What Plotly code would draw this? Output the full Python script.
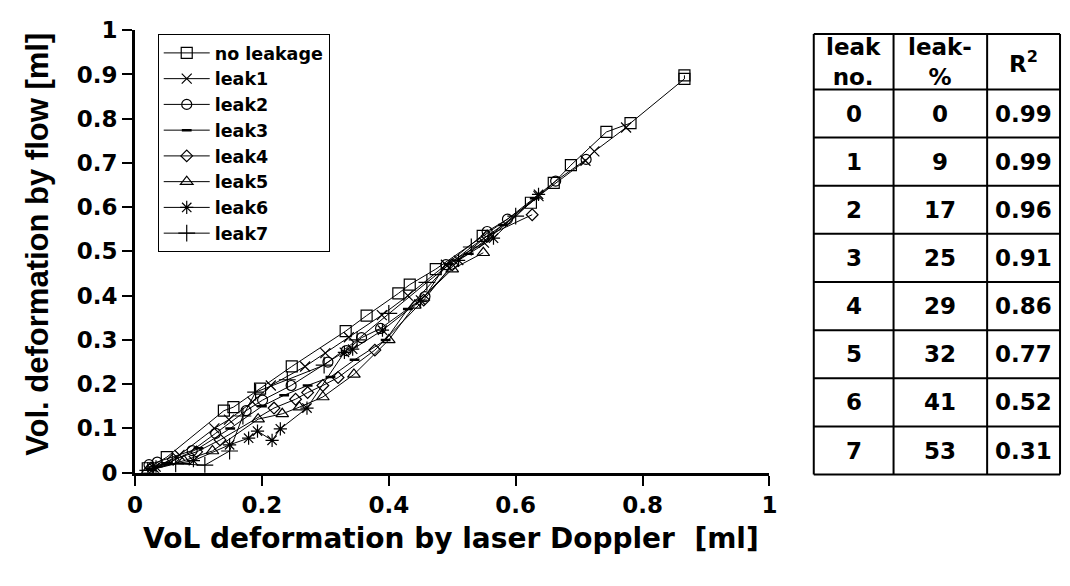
import plotly.graph_objects as go

W, H = 1070, 586

# ---- data ----
series_names = ["no leakage", "leak1", "leak2", "leak3", "leak4", "leak5", "leak6", "leak7"]

no_leak_x = [0.02, 0.05, 0.14, 0.155, 0.197, 0.247, 0.332, 0.365, 0.415, 0.433, 0.474, 0.548, 0.624, 0.660, 0.687, 0.743, 0.781, 0.866, 0.866]
no_leak_y = [0.01, 0.035, 0.14, 0.148, 0.19, 0.24, 0.32, 0.355, 0.405, 0.425, 0.46, 0.535, 0.61, 0.655, 0.695, 0.77, 0.79, 0.89, 0.898]

leak1_x = [0.03, 0.07, 0.125, 0.148, 0.185, 0.214, 0.268, 0.30, 0.337, 0.389, 0.43, 0.49, 0.55, 0.636, 0.71, 0.724, 0.774]
leak1_y = [0.01, 0.04, 0.10, 0.12, 0.16, 0.197, 0.24, 0.27, 0.306, 0.356, 0.40, 0.47, 0.52, 0.625, 0.705, 0.726, 0.78]

leak2_x = [0.022, 0.035, 0.09, 0.127, 0.175, 0.201, 0.246, 0.304, 0.333, 0.357, 0.387, 0.457, 0.49, 0.555, 0.587, 0.663, 0.711]
leak2_y = [0.018, 0.024, 0.05, 0.089, 0.14, 0.164, 0.197, 0.25, 0.276, 0.305, 0.326, 0.398, 0.47, 0.545, 0.573, 0.659, 0.708]

leak3_x = [0.025, 0.05, 0.10, 0.15, 0.20, 0.235, 0.272, 0.308, 0.346, 0.395, 0.43, 0.494, 0.526, 0.58, 0.63]
leak3_y = [0.008, 0.02, 0.055, 0.10, 0.15, 0.175, 0.197, 0.216, 0.255, 0.30, 0.37, 0.471, 0.495, 0.56, 0.62]

leak4_x = [0.025, 0.06, 0.097, 0.134, 0.219, 0.253, 0.272, 0.296, 0.320, 0.378, 0.455, 0.50, 0.555, 0.626]
leak4_y = [0.01, 0.03, 0.047, 0.074, 0.146, 0.166, 0.181, 0.197, 0.215, 0.277, 0.39, 0.47, 0.535, 0.583]

leak5_x = [0.02, 0.077, 0.122, 0.194, 0.232, 0.259, 0.296, 0.345, 0.40, 0.441, 0.50, 0.549]
leak5_y = [0.005, 0.027, 0.049, 0.121, 0.133, 0.148, 0.171, 0.222, 0.30, 0.378, 0.46, 0.497]

leak6_x = [0.033, 0.092, 0.149, 0.179, 0.193, 0.216, 0.229, 0.271, 0.330, 0.343, 0.390, 0.45, 0.51, 0.565, 0.636]
leak6_y = [0.013, 0.027, 0.063, 0.078, 0.094, 0.073, 0.099, 0.146, 0.272, 0.279, 0.322, 0.39, 0.48, 0.53, 0.629]

leak7_x = [0.02, 0.064, 0.11, 0.149, 0.17, 0.19, 0.24, 0.298, 0.35, 0.40, 0.46, 0.53, 0.60]
leak7_y = [0.005, 0.02, 0.017, 0.049, 0.128, 0.182, 0.21, 0.243, 0.30, 0.36, 0.43, 0.51, 0.58]

table_header = ["leak<br>no.", "leak-<br>%", "R<sup>2</sup>"]
table_leak_no = ["0", "1", "2", "3", "4", "5", "6", "7"]
table_leak_pct = ["0", "9", "17", "25", "29", "32", "41", "53"]
table_r2 = ["0.99", "0.99", "0.96", "0.91", "0.86", "0.77", "0.52", "0.31"]

x_title = "VoL deformation by laser Doppler  [ml]"
y_title = "Vol. deformation by flow [ml]"

# ---- styles ----
all_x = [no_leak_x, leak1_x, leak2_x, leak3_x, leak4_x, leak5_x, leak6_x, leak7_x]
all_y = [no_leak_y, leak1_y, leak2_y, leak3_y, leak4_y, leak5_y, leak6_y, leak7_y]
symbols = ["square-open", "x-thin-open", "circle-open", "line-ew-open",
           "diamond-open", "triangle-up-open", "asterisk-open", "cross-thin-open"]
sizes = [11, 10, 10, 7, 9, 11, 11, 12]

WIDE = "DejaVu Sans, Verdana, sans-serif"
ARIAL = "Liberation Sans, Arial, sans-serif"

fig = go.Figure()
for name, xs, ys, sym, sz in zip(series_names, all_x, all_y, symbols, sizes):
    fig.add_trace(go.Scatter(
        x=xs, y=ys, name=name, mode="lines+markers",
        line=dict(color="black", width=1),
        marker=dict(symbol=sym, size=sz, color="black",
                    line=dict(color="black", width=1.2 if sym != "line-ew-open" else 2.5)),
    ))

# plot area in pixels
PL, PR, PT, PB = 129, 773, 18, 481

fig.update_layout(
    width=W, height=H, autosize=False,
    margin=dict(l=0, r=0, t=0, b=0),
    paper_bgcolor="white", plot_bgcolor="white",
    font=dict(family=WIDE, color="black"),
    showlegend=True,
    legend=dict(
        x=152 / W, y=1 - 22 / H, xanchor="left", yanchor="top",
        bgcolor="white", bordercolor="black", borderwidth=1,
        font=dict(family=WIDE, size=17.5, color="black", weight="bold"),
        itemwidth=46, tracegroupgap=0,
    ),
    xaxis=dict(
        domain=[PL / W, PR / W], range=[0, 1], tick0=0, dtick=0.2,
        showgrid=False, zeroline=False, showline=True, linecolor="black", linewidth=3,
        ticks="outside", ticklen=10, tickwidth=2, tickcolor="black",
        tickfont=dict(family=WIDE, size=23, color="black", weight="bold"),
    ),
    yaxis=dict(
        domain=[1 - PB / H, 1 - PT / H], range=[0, 1], tick0=0, dtick=0.1,
        showgrid=False, zeroline=False, showline=True, linecolor="black", linewidth=3,
        ticks="outside", ticklen=10, tickwidth=2, tickcolor="black",
        tickfont=dict(family=WIDE, size=23, color="black", weight="bold"),
    ),
)

annotations = [
    dict(text=x_title, x=450 / W, y=1 - 550 / H, xref="paper", yref="paper",
         showarrow=False, xanchor="center", yanchor="middle",
         font=dict(family=WIDE, size=28, color="black", weight="bold")),
    dict(text=y_title, x=30 / W, y=1 - 242 / H, xref="paper", yref="paper",
         showarrow=False, xanchor="center", yanchor="middle", textangle=-90,
         font=dict(family=ARIAL, size=31, color="black", weight="bold")),
]

# ---- table (drawn with shapes and annotations) ----
col_edges = [818, 899, 994, 1068]
top, header_bottom, bottom = 22, 80, 483
n_rows = len(table_leak_no)
row_h = (bottom - header_bottom) / n_rows
row_edges = [top, header_bottom] + [header_bottom + row_h * (i + 1) for i in range(n_rows)]

shapes = []
for xe in col_edges:
    shapes.append(dict(type="line", xref="paper", yref="paper",
                       x0=xe / W, x1=xe / W, y0=1 - top / H, y1=1 - bottom / H,
                       line=dict(color="black", width=2)))
for ye in row_edges:
    shapes.append(dict(type="line", xref="paper", yref="paper",
                       x0=col_edges[0] / W, x1=col_edges[-1] / W, y0=1 - ye / H, y1=1 - ye / H,
                       line=dict(color="black", width=2)))

cell_font = dict(family=WIDE, size=23, color="black", weight="bold")
for ci, htxt in enumerate(table_header):
    cx = (col_edges[ci] + col_edges[ci + 1]) / 2
    cy = (top + header_bottom) / 2
    annotations.append(dict(text=htxt, x=cx / W, y=1 - cy / H, xref="paper", yref="paper",
                            showarrow=False, xanchor="center", yanchor="middle",
                            font=cell_font))
columns = [table_leak_no, table_leak_pct, table_r2]
for ci, col in enumerate(columns):
    cx = (col_edges[ci] + col_edges[ci + 1]) / 2
    for ri, val in enumerate(col):
        cy = header_bottom + row_h * (ri + 0.5)
        annotations.append(dict(text=val, x=cx / W, y=1 - cy / H, xref="paper", yref="paper",
                                showarrow=False, xanchor="center", yanchor="middle",
                                font=cell_font))

fig.update_layout(annotations=annotations, shapes=shapes)

fig.write_html("out.html")
